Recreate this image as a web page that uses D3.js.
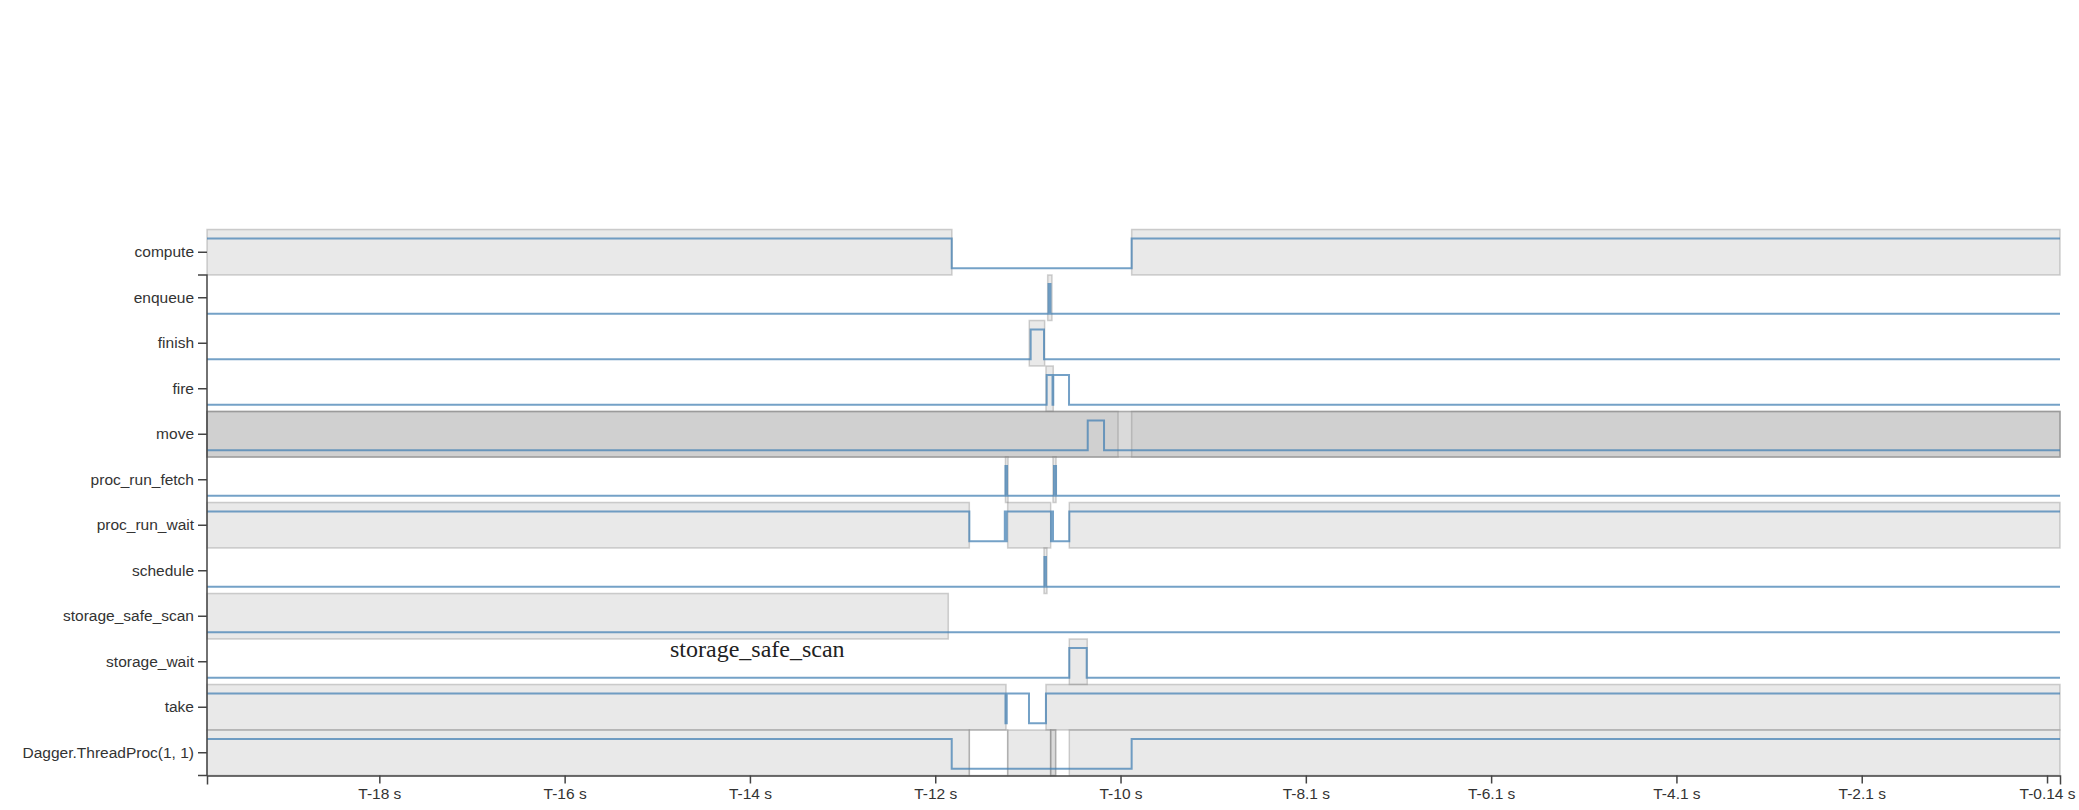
<!DOCTYPE html>
<meta charset="utf-8">
<head>
    <script src="https://d3js.org/d3.v7.min.js"></script>
    <style>
        body { margin: 0; background: #fff; }
        .axis text { font-family: "Liberation Sans", Arial, sans-serif; font-size: 15.5px; fill: #333; }
        .axis path, .axis line { stroke: #444; stroke-width: 1.5; }
        .hover-label { font-family: "Liberation Serif", "Times New Roman", serif; font-size: 24px; fill: #222; }
    </style>
</head>
<body>
<div id="chart"></div>
<script>
    // one row per event kind, top to bottom
    var rows = ["compute", "enqueue", "finish", "fire", "move", "proc_run_fetch",
                "proc_run_wait", "schedule", "storage_safe_scan", "storage_wait",
                "take", "Dagger.ThreadProc(1, 1)"];

    // time window shown, seconds (0 = left edge, 20 = "T-0")
    var windowLength = 20;
    var tickTimes = [1.86, 3.86, 5.86, 7.86, 9.86, 11.86, 13.86, 15.86, 17.86, 19.86];
    var tickLabels = ["T-18 s", "T-16 s", "T-14 s", "T-12 s", "T-10 s",
                      "T-8.1 s", "T-6.1 s", "T-4.1 s", "T-2.1 s", "T-0.14 s"];

    // grey spans: [row, start, end]
    var spans = [
        ["compute", 0, 8.04], ["compute", 9.98, 20],
        ["enqueue", 9.074, 9.12],
        ["finish", 8.875, 9.041],
        ["fire", 9.055, 9.134],
        ["move", 0, 20], ["move", 0, 20], ["move", 0, 9.833], ["move", 9.98, 20],
        ["proc_run_fetch", 8.618, 8.646], ["proc_run_fetch", 9.131, 9.164],
        ["proc_run_wait", 0, 8.228], ["proc_run_wait", 8.642, 9.106], ["proc_run_wait", 9.307, 20],
        ["schedule", 9.034, 9.066],
        ["storage_safe_scan", 0, 8.001],
        ["storage_wait", 9.307, 9.501],
        ["take", 0, 8.624], ["take", 9.055, 20],
        ["Dagger.ThreadProc(1, 1)", 0, 8.228],
        ["Dagger.ThreadProc(1, 1)", 8.642, 9.106],
        ["Dagger.ThreadProc(1, 1)", 9.106, 9.16],
        ["Dagger.ThreadProc(1, 1)", 9.106, 9.16],
        ["Dagger.ThreadProc(1, 1)", 9.307, 20]
    ];

    // outlined-only spans
    var idleSpans = [
        ["Dagger.ThreadProc(1, 1)", 8.228, 8.642]
    ];

    // intervals where the blue line is up: [row, start, end]
    var active = [
        ["compute", 0, 8.038], ["compute", 9.98, 20],
        ["enqueue", 9.083, 9.104],
        ["finish", 8.89, 9.034],
        ["fire", 9.063, 9.126], ["fire", 9.134, 9.304],
        ["move", 9.506, 9.682],
        ["proc_run_fetch", 8.618, 8.635], ["proc_run_fetch", 9.142, 9.164],
        ["proc_run_wait", 0, 8.228], ["proc_run_wait", 8.611, 8.622], ["proc_run_wait", 8.632, 9.11],
        ["proc_run_wait", 9.12, 9.131], ["proc_run_wait", 9.307, 20],
        ["schedule", 9.039, 9.055],
        ["storage_wait", 9.307, 9.495],
        ["take", 0, 8.618], ["take", 8.632, 8.872], ["take", 9.055, 20],
        ["Dagger.ThreadProc(1, 1)", 0, 8.038], ["Dagger.ThreadProc(1, 1)", 9.98, 20]
    ];

    var hoverText = "storage_safe_scan";

    var width = 2079, height = 810;

    var svg = d3.select("#chart")
      .append("svg")
        .attr("width", width)
        .attr("height", height);

    var x = d3.scaleLinear()
        .domain([0, windowLength])
        .range([207, 2060]);

    var y = d3.scaleBand()
        .domain(rows)
        .range([229.5, 775.5])
        .padding(0);

    var bw = y.bandwidth();

    // grey spans
    svg.append("g")
      .selectAll("rect")
      .data(spans)
      .enter()
      .append("rect")
        .attr("x", function(d) { return x(d[1]); })
        .attr("width", function(d) { return Math.max(1, x(d[2]) - x(d[1])); })
        .attr("y", function(d) { return y(d[0]); })
        .attr("height", bw)
        .attr("fill", "#bbb")
        .attr("fill-opacity", 0.33)
        .attr("stroke", "#777")
        .attr("stroke-opacity", 0.33)
        .attr("stroke-width", 1.5);

    svg.append("g")
      .selectAll("rect")
      .data(idleSpans)
      .enter()
      .append("rect")
        .attr("x", function(d) { return x(d[1]); })
        .attr("width", function(d) { return x(d[2]) - x(d[1]); })
        .attr("y", function(d) { return y(d[0]); })
        .attr("height", bw)
        .attr("fill", "none")
        .attr("stroke", "#777")
        .attr("stroke-opacity", 0.33)
        .attr("stroke-width", 1.5);

    // step line per row
    var line = d3.line()
        .x(function(p) { return x(p[0]); })
        .y(function(p) { return p[2] + (p[1] ? bw * 0.2 : bw * 0.85); })
        .curve(d3.curveStepAfter);

    rows.forEach(function(r) {
        var iv = active.filter(function(d) { return d[0] === r; })
                       .sort(function(a, b) { return a[1] - b[1]; });
        var top = y(r);
        var pts = [[0, (iv.length && iv[0][1] === 0) ? 1 : 0, top]];
        var last = pts[0][1];
        iv.forEach(function(d) {
            if (d[1] > 0) pts.push([d[1], 1, top]);
            last = 1;
            if (d[2] < windowLength) { pts.push([d[2], 0, top]); last = 0; }
        });
        pts.push([windowLength, last, top]);

        svg.append("path")
            .datum(pts)
            .attr("fill", "none")
            .attr("stroke", "steelblue")
            .attr("stroke-opacity", 0.75)
            .attr("stroke-width", 2)
            .attr("d", line);
    });

    // axes
    var yAxis = svg.append("g")
        .attr("class", "axis")
        .attr("transform", "translate(" + x.range()[0] + ",0)")
        .call(d3.axisLeft(y).tickSize(9).tickSizeOuter(9).tickPadding(4));

    // domain path starts at the second band
    var yTop = y(rows[1]), yBot = y.range()[1];
    yAxis.select(".domain")
        .attr("d", "M-9," + yTop + "H0V" + yBot + "H-9");

    svg.append("g")
        .attr("class", "axis")
        .attr("transform", "translate(0," + y.range()[1] + ")")
        .call(d3.axisBottom(x)
            .tickValues(tickTimes)
            .tickFormat(function(d, i) { return tickLabels[i]; })
            .tickSize(8).tickSizeOuter(9).tickPadding(4));

    // leftover hover label
    svg.append("text")
        .attr("class", "hover-label")
        .attr("x", 670)
        .attr("y", 657)
        .text(hoverText);
</script>
</body>
